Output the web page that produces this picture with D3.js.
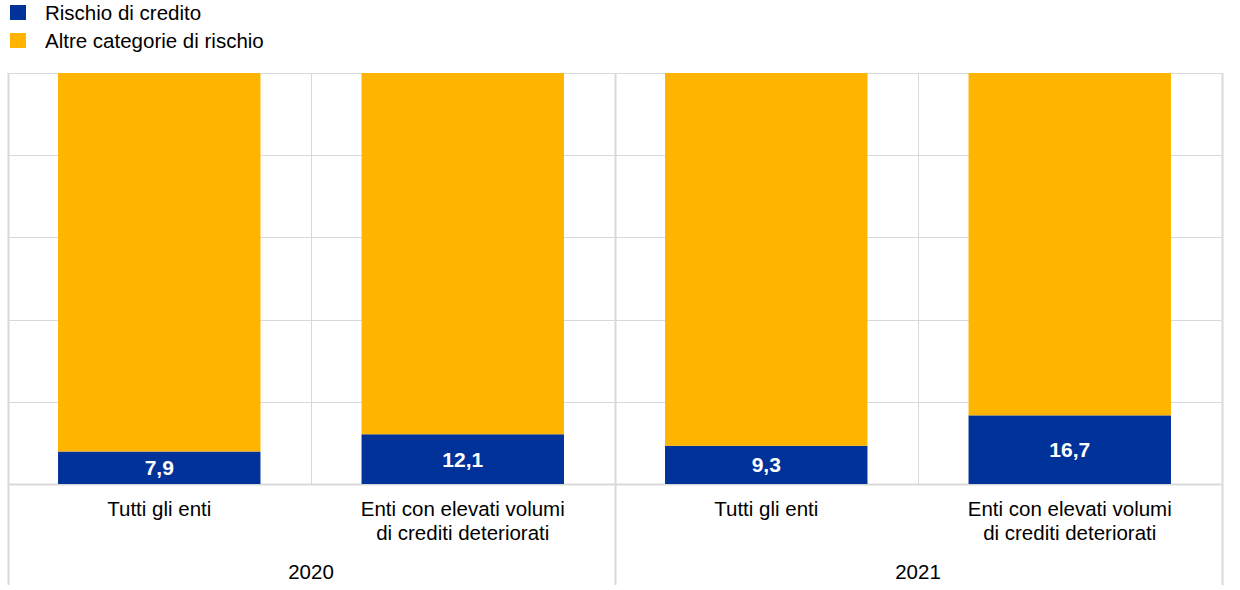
<!DOCTYPE html>
<html><head><meta charset="utf-8">
<script src="https://cdn.jsdelivr.net/npm/d3@7"></script>
<style>body{margin:0;background:#fff}svg{display:block;font-family:Arial,"Liberation Sans",sans-serif}</style>
</head><body><svg id="c" width="1240" height="590"></svg>
<script>
const categories = ["Tutti gli enti|", "Enti con elevati volumi|di crediti deteriorati", "Tutti gli enti|", "Enti con elevati volumi|di crediti deteriorati"];
const years = ["2020", "2020", "2021", "2021"];
const creditRisk = [7.9, 12.1, 9.3, 16.7];
const otherRisk = creditRisk.map(v => 100 - v);
const seriesNames = ["Rischio di credito", "Altre categorie di rischio"];
const colors = ["#003299", "#FFB400"];
const yTicks = [0, 20, 40, 60, 80, 100];

const svg = d3.select("#c");
const L = 7.5, R = 1221.5, T = 73, B = 484;
const ids = d3.range(categories.length);
const x = d3.scaleBand().domain(ids).range([L, R]).paddingInner(0).paddingOuter(0);
const y = d3.scaleLinear().domain([0, 100]).range([B, T]);
const bw = x.bandwidth() * 0.667;
const grid = "#d9d9d9";
const FS = 20.5;

// horizontal gridlines
svg.append("g").selectAll("line").data(yTicks).join("line")
  .attr("x1", L).attr("x2", R).attr("y1", d => Math.round(y(d)) + 0.5).attr("y2", d => Math.round(y(d)) + 0.5)
  .attr("stroke", grid).attr("stroke-width", d => d === 0 ? 2 : 1);
// vertical category lines
svg.append("g").selectAll("line").data(d3.range(categories.length + 1)).join("line")
  .attr("x1", i => Math.round(L + i * x.step()) + 0.5).attr("x2", i => Math.round(L + i * x.step()) + 0.5)
  .attr("y1", T).attr("y2", i => i % 2 === 0 ? 585 : B)
  .attr("stroke", grid).attr("stroke-width", i => i % 2 === 0 ? 2 : 1);

// stacked bars
const stack = ids.map(i => [
  {s: 0, y0: 0, y1: creditRisk[i], i},
  {s: 1, y0: creditRisk[i], y1: creditRisk[i] + otherRisk[i], i}
]).flat();
svg.append("g").selectAll("rect").data(stack).join("rect")
  .attr("x", d => x(d.i) + (x.bandwidth() - bw) / 2)
  .attr("width", bw)
  .attr("y", d => y(d.y1)).attr("height", d => y(d.y0) - y(d.y1))
  .attr("fill", d => colors[d.s]);

// value labels
svg.append("g").selectAll("text").data(ids).join("text")
  .attr("x", i => x(i) + x.bandwidth() / 2)
  .attr("y", i => (y(0) + y(creditRisk[i])) / 2 + 7.5)
  .attr("text-anchor", "middle").attr("font-size", 21).attr("font-weight", "bold").attr("fill", "#fff")
  .text(i => creditRisk[i].toFixed(1).replace(".", ","));

// category labels
ids.forEach(i => {
  const lines = categories[i].split("|").filter(s => s);
  const t = svg.append("text").attr("text-anchor", "middle").attr("font-size", FS).attr("fill", "#000");
  lines.forEach((ln, k) => t.append("tspan").attr("x", x(i) + x.bandwidth() / 2).attr("y", 516 + k * 24).text(ln));
});
// year labels
const yrs = Array.from(new Set(years));
yrs.forEach(yr => {
  const idx = ids.filter(i => years[i] === yr);
  const cx = (x(idx[0]) + x(idx[idx.length - 1]) + x.bandwidth()) / 2;
  svg.append("text").attr("x", cx).attr("y", 579).attr("text-anchor", "middle").attr("font-size", FS).text(yr);
});

// legend
seriesNames.forEach((n, k) => {
  svg.append("rect").attr("x", 10).attr("y", 5 + k * 28).attr("width", 16).attr("height", 15).attr("fill", colors[k]);
  svg.append("text").attr("x", 45).attr("y", 20 + k * 28).attr("font-size", FS).text(n);
});
</script></body></html>
